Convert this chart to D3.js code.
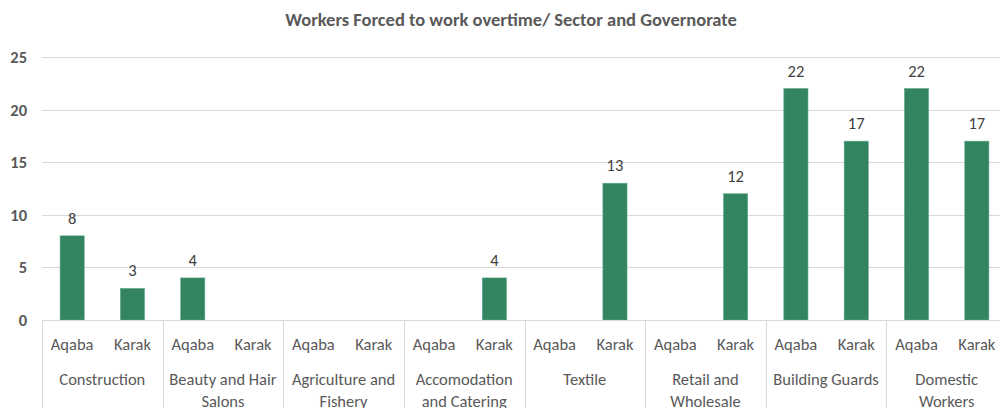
<!DOCTYPE html>
<html><head><meta charset="utf-8">
<script src="https://cdn.jsdelivr.net/npm/d3@7"></script>
<style>body{margin:0;background:#fff;}svg{display:block;font-family:Carlito,Lato,"Liberation Sans",Arial,sans-serif;}</style>
</head><body><svg id="c" width="1000" height="408"></svg>
<script>
const sectors = ["Construction","Beauty and Hair Salons","Agriculture and Fishery","Accomodation and Catering","Textile","Retail and Wholesale","Building Guards","Domestic Workers"];
const sectorLines = [["Construction"],["Beauty and Hair","Salons"],["Agriculture and","Fishery"],["Accomodation","and Catering"],["Textile"],["Retail and","Wholesale"],["Building Guards"],["Domestic","Workers"]];
const governorates = ["Aqaba","Karak"];
const aqaba = [8,4,null,null,null,null,22,22];
const karak = [3,null,null,4,13,12,17,17];
const yTicks = [0,5,10,15,20,25];
const title = "Workers Forced to work overtime/ Sector and Governorate";

(function(){
const svg = d3.select("#c");
const mLeft = 42, mRight = 1007, mTop = 57, mBottom = 320;
const x0 = d3.scaleBand().domain(sectors).range([mLeft,mRight]).padding(0);
const x1 = d3.scaleBand().domain(governorates).range([0,x0.bandwidth()]).paddingInner(0.6).paddingOuter(0.3);
const y = d3.scaleLinear().domain([0,25]).range([mBottom,mTop]);

svg.append("text").attr("x",511).attr("y",26).attr("text-anchor","middle")
  .attr("font-size",18.5).attr("font-weight","bold").attr("fill","#595959").text(title);

svg.append("g").selectAll("line").data(yTicks.filter(d=>d>0)).join("line")
  .attr("x1",mLeft).attr("x2",1000).attr("y1",d=>Math.round(y(d))+0.5).attr("y2",d=>Math.round(y(d))+0.5)
  .attr("stroke","#d9d9d9").attr("stroke-width",1);
svg.append("g").selectAll("text").data(yTicks).join("text")
  .attr("x",27).attr("y",d=>y(d)+6).attr("text-anchor","end")
  .attr("font-size",16.5).attr("font-weight","bold").attr("fill","#595959").text(d=>d);

const rows = [];
sectors.forEach((s,i)=>{rows.push({s,g:"Aqaba",v:aqaba[i]});rows.push({s,g:"Karak",v:karak[i]});});
const bars = rows.filter(d=>d.v!=null);
const cw = x1.bandwidth();
svg.append("g").selectAll("rect").data(bars).join("rect")
  .attr("x",d=>x0(d.s)+x1(d.g)).attr("width",cw)
  .attr("y",d=>y(d.v)).attr("height",d=>y(0)-y(d.v))
  .attr("fill","#338461").attr("stroke","#5aa884").attr("stroke-width",0.6);
svg.append("g").selectAll("text").data(bars).join("text")
  .attr("x",d=>x0(d.s)+x1(d.g)+cw/2).attr("y",d=>y(d.v)-12)
  .attr("text-anchor","middle").attr("font-size",16.5).attr("fill","#404040").text(d=>d.v);

svg.append("line").attr("x1",mLeft).attr("x2",1000).attr("y1",mBottom+0.5).attr("y2",mBottom+0.5).attr("stroke","#d9d9d9");
svg.append("g").selectAll("line").data(sectors.map(s=>x0(s)).concat([mRight])).join("line")
  .attr("x1",d=>Math.round(d)+0.5).attr("x2",d=>Math.round(d)+0.5).attr("y1",mBottom).attr("y2",408)
  .attr("stroke","#d9d9d9");
svg.append("g").selectAll("text").data(rows).join("text")
  .attr("x",d=>x0(d.s)+x1(d.g)+cw/2).attr("y",350)
  .attr("text-anchor","middle").attr("font-size",16.5).attr("fill","#595959").text(d=>d.g);
const sg = svg.append("g").selectAll("text").data(sectors).join("text")
  .attr("x",d=>x0(d)+x0.bandwidth()/2).attr("y",385)
  .attr("text-anchor","middle").attr("font-size",16.5).attr("fill","#595959");
sg.selectAll("tspan").data((d,i)=>sectorLines[i]).join("tspan")
  .attr("x",function(){return this.parentNode.getAttribute("x");})
  .attr("dy",(d,i)=>i===0?0:22).text(d=>d);
})();
</script></body></html>
